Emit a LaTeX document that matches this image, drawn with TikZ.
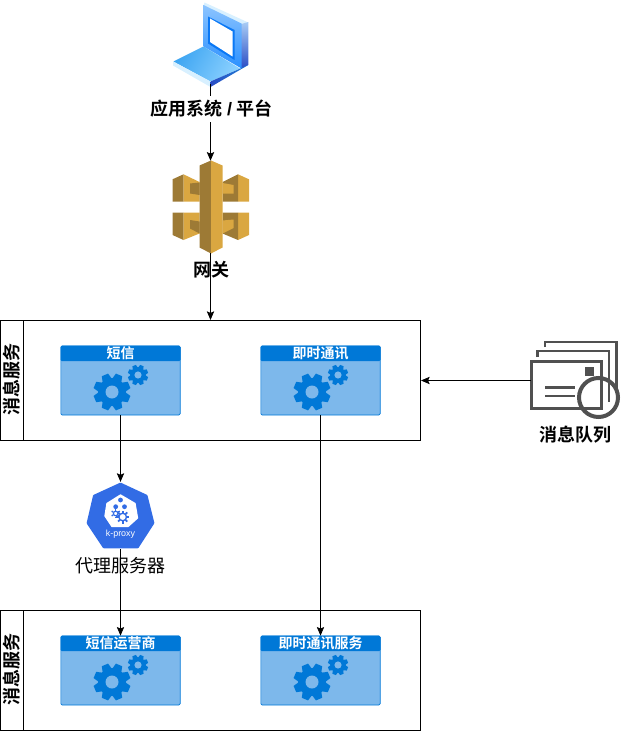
\documentclass[tikz,border=0pt]{standalone}
\usepackage{fontspec}
\setmainfont{Noto Sans CJK SC}[BoldFont=Noto Sans CJK SC Bold]
\newfontfamily\latinsans{Liberation Sans}
\usetikzlibrary{arrows.meta,calc}
\definecolor{cardfill}{HTML}{7DB8EB}
\definecolor{cardblue}{HTML}{0078D7}
\definecolor{gwdark}{HTML}{9D7A35}
\definecolor{gwlight}{HTML}{DAA741}
\definecolor{qgrey}{HTML}{505050}
\definecolor{kblue}{HTML}{326CE5}
\definecolor{lapA}{HTML}{8CC4FF}
\definecolor{lapB}{HTML}{2A90FF}
\definecolor{lapFrame}{HTML}{0A78F5}
\definecolor{lapBaseA}{HTML}{3FA6F2}
\definecolor{lapBaseB}{HTML}{8AD0FF}
\definecolor{lapSideA}{HTML}{A8CCF5}
\definecolor{lapSideB}{HTML}{2A4CC4}
\definecolor{lapEdge}{HTML}{D8F0FF}
\tikzset{
  conn/.style={draw=black,line width=.6pt,-{Stealth[length=6.5pt,width=5.5pt,inset=1.2pt]}},
  frame/.style={draw=black,line width=.75pt,minimum width=315pt,minimum height=90pt,inner sep=0pt},
  swimtitle/.style={font=\bfseries\fontsize{13.5}{15}\selectfont,rotate=90,inner sep=0pt},
  card/.style={draw=cardblue,fill=cardfill,line width=.5pt,rounded corners=1pt,minimum width=89.5pt,minimum height=51.75pt,inner sep=0pt},
  cardtitle/.style={text=white,font=\bfseries\fontsize{10.5}{12}\selectfont,inner sep=0pt},
  icon/.style={inner sep=0pt,minimum width=#1},
  icontitle/.style={font=\bfseries\fontsize{13.5}{15}\selectfont,inner sep=0pt},
  plain/.style={font=\fontsize{13.5}{15}\selectfont,inner sep=0pt}
}
\newcommand{\onegear}[4]{%
  \begin{scope}[shift={(#1,#2)},scale=#3]
    \fill[cardblue] (0,0) circle (14);
    \foreach \a in {0,45,...,315}
      \fill[cardblue,rotate=\a+22.5] (-5,-12)--(-3.4,-18.5)--(3.4,-18.5)--(5,-12)--cycle;
    \fill[#4] (0,0) circle (6.5);
  \end{scope}}
\newcommand{\cardgears}[2]{%
  \onegear{#1+51}{#2+46}{1}{cardfill}
  \onegear{#1+77}{#2+29}{.55}{cardfill}}
\begin{document}
\begin{tikzpicture}[x=.75pt,y=-.75pt]
\useasboundingbox (0,0) rectangle (621,731);

% frames
\node[frame] (box1) at (210.5,380.5) {};
\node[frame] (box2) at (210.5,670.5) {};
\draw[line width=.75pt] (23,320.5) -- (23,440.5);
\draw[line width=.75pt] (23,610.5) -- (23,730.5);
\node[swimtitle] (box1title) at (12,379) {消息服务};
\node[swimtitle] (box2title) at (12,669) {消息服务};

% laptop
\node[icon=60pt,minimum height=60pt] (laptop) at (210.5,43.5) {};
\fill[lapEdge] (204.5,2.5)--(248.3,22.5)--(241.5,24.5)--(203.5,6)--cycle;
\shade[top color=lapSideA,bottom color=lapSideB] (241.5,24)--(248.3,22)--(248.3,65)--(241.5,68.5)--cycle;
\shade[top color=lapA,bottom color=lapB] (203.5,5)--(241.5,23.5)--(241.5,68.5)--(203.5,46.5)--cycle;
\fill[lapFrame] (208,16.5)--(234.5,30)--(234.5,60)--(208,43.5)--cycle;
\fill[white] (210,18.5)--(232.5,31.5)--(232.5,56.5)--(210,42)--cycle;
\shade[left color=lapBaseA,right color=lapBaseB,shading angle=60] (173.5,61.5)--(203.5,46.5)--(240,68.5)--(210.5,81.5)--cycle;
\fill[lapEdge] (173,61.5)--(210.5,81.5)--(210.5,87)--(173,65.5)--cycle;
\shade[left color=lapSideB,right color=lapSideB!70!cyan] (210.5,81.5)--(241.5,68)--(248.3,65)--(210.5,87)--cycle;

% gateway
\node[icon=58pt,minimum height=69pt] (gateway) at (210.5,207) {};
% upper left block
\fill[gwdark] (172.5,179.3)--(183.5,174.3)--(183.5,201.7)--(172.5,201.7)--cycle;
\fill[gwlight] (183.5,174.3)--(199.5,182)--(199.5,201.7)--(183.5,201.7)--cycle;
\fill[gwdark] (190,183.5)--(199.5,182.5)--(199.5,195)--(190,193.5)--cycle;
% upper right block
\fill[gwlight] (238,174.3)--(249,179.3)--(249,201.7)--(238,201.7)--cycle;
\fill[gwdark] (238,174.3)--(222.5,182)--(222.5,201.7)--(238,201.7)--cycle;
\fill[gwlight] (222.5,183)--(233.5,185)--(233.5,193.5)--(222.5,193.5)--cycle;
% lower left block
\fill[gwdark] (172.5,212.7)--(183.5,212.7)--(183.5,240)--(172.5,235)--cycle;
\fill[gwlight] (183.5,212.7)--(199.5,212.7)--(199.5,233.5)--(183.5,240)--cycle;
\fill[gwdark] (190,220)--(199.5,221.5)--(199.5,233.5)--(190,228.5)--cycle;
% lower right block
\fill[gwlight] (238,212.7)--(249,212.7)--(249,235)--(238,240)--cycle;
\fill[gwdark] (238,212.7)--(222.5,212.7)--(222.5,233.5)--(238,240)--cycle;
\fill[gwlight] (222.5,220.5)--(233.5,219.5)--(233.5,228)--(222.5,233.5)--cycle;
% column
\fill[gwdark] (199.5,165.5)--(211,160.5)--(211,253.5)--(199.5,247.5)--cycle;
\fill[gwlight] (211,160.5)--(222.5,165.5)--(222.5,247.5)--(211,253.5)--cycle;
\node[icontitle] (gatewaylabel) at (211,269.5) {网关};

% cards
\foreach \n/\x/\y/\t in {c1/120.5/380.5/短信,c2/320.5/380.5/即时通讯,c3/120.5/670.5/短信运营商,c4/320.5/670.5/即时通讯服务}{
  \node[card] (\n) at (\x,\y) {};
  \fill[cardblue,rounded corners=1pt] ($(\n.north west)$) rectangle ($(\n.north east)+(0,15.5)$);
  \node[cardtitle] (\n title) at ($(\n.north)+(0,7.7)$) {\t};
  \cardgears{\x-59.5}{\y-34.5}
}

% queue
\node[icon=66pt,minimum height=66pt] (queue) at (575,380.5) {};
\begin{scope}[qgrey,line width=1.9pt]
  \draw (545,347)--(545,342)--(616.5,342)--(616.5,393);
  \draw (537.5,357)--(537.5,351)--(609,351)--(609,402);
  \draw (531.5,361.5) rectangle (601.5,408.5);
  \fill[qgrey] (585,367) rectangle (594,376);
  \draw (545,387.5)--(575,387.5);
  \draw (545,396)--(575,396);
  \draw[line width=3pt] (598.5,397.5) circle (19.5);
\end{scope}
\node[icontitle] (queuelabel) at (575.5,435) {消息队列};

% k-proxy
\node[icon=50pt,minimum height=50pt] (proxy) at (120.5,515.5) {};
\fill[kblue,draw=kblue,line width=2pt,line join=round]
  (120.5,484)--(146.3,496)--(153,523)--(137.5,547)--(104,547)--(88,523)--(94.3,496)--cycle;
\fill[white,line join=round,draw=white,line width=1pt]
  (120.5,495)--(135,503.5)--(137.5,518)--(128,526.5)--(112,526.5)--(105,516)--(107,503.5)--cycle;
\foreach \cx/\cy in {120.5/500,115.7/506.7,124.5/506.7}
  \fill[kblue] (\cx,\cy) circle (2.4);
\begin{scope}
  \foreach \a in {0,45,...,315}
    \fill[kblue,rotate around={\a:(122.7,517)}] (121.8,510.5) rectangle (123.6,512.8);
  \draw[kblue,line width=1pt,fill=white] (122.7,517) circle (3.8);
  \foreach \a in {0,60,...,300}
    \fill[kblue,rotate around={\a:(115.7,513.5)}] (115,508.8) rectangle (116.4,510.5);
  \draw[kblue,line width=.9pt,fill=white] (115.7,513.5) circle (2.3);
\end{scope}
\node[text=white,font=\latinsans\fontsize{6.7}{7}\selectfont,inner sep=0pt] (proxyname) at (120.5,534) {k-proxy};
\node[plain] (proxylabel) at (120.5,566) {代理服务器};

% connectors
\draw[conn] (laptop.south) -- (gateway.north);
\draw[conn] (gateway.south) -- (box1.north);
\draw[conn] (queue.west) -- (box1.east);
\draw[conn] (c1.south) -- (proxy.north);
\draw[conn] (proxy.south) -- (c3.north);
\draw[conn] (c2.south) -- (c4.north);
\node[icontitle,fill=white,inner ysep=3pt] (laptoplabel) at (211.5,109) {应用系统 {\latinsans\bfseries /} 平台};
\end{tikzpicture}
\end{document}
